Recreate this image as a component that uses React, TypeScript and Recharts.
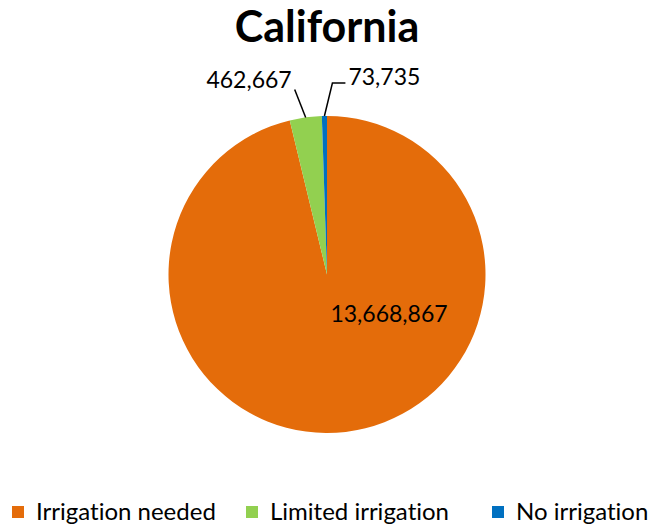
import React from 'react';
import { PieChart, Pie, Cell, Legend } from 'recharts';

const categories = ['Irrigation needed', 'Limited irrigation', 'No irrigation'];
const values = [13668867, 462667, 73735];
const colors = ['#E46C0A', '#92D050', '#0070C0'];

const data = categories.map((name, i) => ({ name, value: values[i] }));

const FONT = 'Lato, "Open Sans", sans-serif';
const RADIAN = Math.PI / 180;
const noLig = { fontVariantLigatures: 'none' } as React.CSSProperties;

const fmt = (v: number) => v.toLocaleString('en-US');

const renderLabel = (props: any) => {
    const { cx, cy, midAngle, outerRadius, index, value } = props;
    const ox = cx + outerRadius * Math.cos(-midAngle * RADIAN);
    const oy = cy + outerRadius * Math.sin(-midAngle * RADIAN);

    if (index === 0) {
        // big slice: label sits inside
        return (
            <text x={cx + 62} y={cy + 47} textAnchor="middle" fill="#000" fontSize={23} fontFamily={FONT}>
                {fmt(value)}
            </text>
        );
    }
    if (index === 1) {
        const ex = ox - 11;
        const ey = oy - 28;
        return (
            <g>
                <polyline points={`${ox},${oy} ${ex},${ey}`} stroke="#000" strokeWidth={1.5} fill="none" />
                <text x={ex - 3} y={ey - 1} textAnchor="end" fill="#000" fontSize={23} fontFamily={FONT}>
                    {fmt(value)}
                </text>
            </g>
        );
    }
    const mx = ox + 8;
    const my = oy - 33;
    return (
        <g>
            <polyline points={`${ox},${oy} ${mx},${my} ${mx + 13},${my}`} stroke="#000" strokeWidth={1.5} fill="none" />
            <text x={mx + 16} y={my + 2} textAnchor="start" fill="#000" fontSize={23} fontFamily={FONT}>
                {fmt(value)}
            </text>
        </g>
    );
};

const renderLegend = (props: any) => {
    const { payload } = props;
    const xs = [12, 246, 492];
    return (
        <svg width={652} height={30}>
            {payload.map((entry: any, i: number) => (
                <g key={entry.value}>
                    <rect x={xs[i]} y={9} width={12} height={12} fill={entry.color} />
                    <text x={xs[i] + 24} y={23} fontSize={24} fontFamily={FONT} fill="#000" style={noLig}>
                        {entry.value}
                    </text>
                </g>
            ))}
        </svg>
    );
};

const App: React.FC = () => {
    return (
        <div style={{ position: 'absolute', left: 0, top: 0, width: 652, height: 527, background: '#fff' }}>
            <PieChart width={652} height={527} margin={{ top: 0, right: 0, bottom: 0, left: 0 }}>
                <text x={327} y={42} textAnchor="middle" fontSize={43} fontWeight="bold" fontFamily={FONT} fill="#000">
                    California
                </text>
                <Pie
                    data={data}
                    dataKey="value"
                    nameKey="name"
                    cx={327}
                    cy={274.5}
                    outerRadius={158.5}
                    startAngle={90}
                    endAngle={-270}
                    stroke="none"
                    label={renderLabel}
                    labelLine={false}
                    isAnimationActive={false}
                >
                    {data.map((d, i) => (
                        <Cell key={d.name} fill={colors[i]} />
                    ))}
                </Pie>
                <Legend
                    content={renderLegend}
                    wrapperStyle={{ position: 'absolute', left: 0, top: 497, width: 652 }}
                />
            </PieChart>
        </div>
    );
};

export default App;
